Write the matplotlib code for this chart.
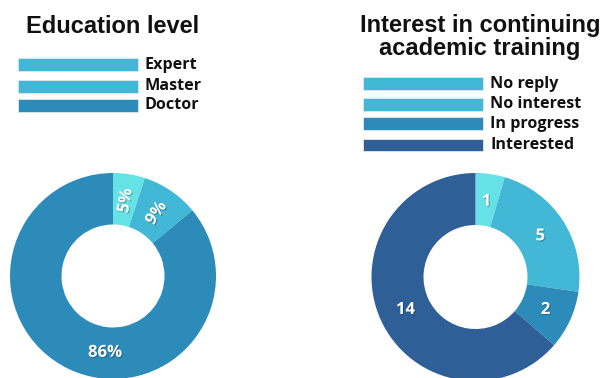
import matplotlib.pyplot as plt
import matplotlib.patches as mpatches
import matplotlib.patheffects as pe
import numpy as np

W, H = 600, 378

edu_labels = ['Expert', 'Master', 'Doctor']
edu_values = [5, 9, 86]

interest_labels = ['No reply', 'No interest', 'In progress', 'Interested']
interest_values = [1, 5, 2, 14]

c_cyan = '#64E2E6'
c_light = '#42B7D6'
c_mid = '#2D8BBA'
c_dark = '#2E5F97'

edu_colors = [c_cyan, c_light, c_mid]
edu_legend_colors = [c_light, c_light, c_mid]
int_colors = [c_cyan, c_light, c_mid, c_dark]
int_legend_colors = [c_light, c_light, c_mid, c_dark]

fig = plt.figure(figsize=(W / 100, H / 100), dpi=100, facecolor='white')


def px_axes(cx, cy, r):
    # axes in pixel coords (y down), unit radius = r pixels
    return fig.add_axes([(cx - r) / W, (H - cy - r) / H, 2 * r / W, 2 * r / H])


shadow = [pe.withSimplePatchShadow(offset=(0.7, -0.7), shadow_rgbFace='#1a1a1a', alpha=0.35)]


def donut(cx, cy, r, values, colors, texts, rotate, angle_override):
    ax = px_axes(cx, cy, r)
    wedges, _ = ax.pie(values, colors=colors, startangle=90, counterclock=False,
                       radius=1.0, wedgeprops=dict(width=0.5, linewidth=0))
    for i, (w, t) in enumerate(zip(wedges, texts)):
        ang = (w.theta1 + w.theta2) / 2
        if angle_override.get(i) is not None:
            ang = angle_override[i]
        rr = 0.74
        x, y = rr * np.cos(np.radians(ang)), rr * np.sin(np.radians(ang))
        rot = ang if rotate[i] else 0
        ax.text(x, y, t, ha='center', va='center', rotation=rot,
                rotation_mode='anchor', fontsize=12, fontweight='bold',
                color='white', family='Open Sans', path_effects=shadow)
    ax.set_xlim(-1, 1)
    ax.set_ylim(-1, 1)
    ax.set_aspect('equal')
    ax.axis('off')
    return ax


donut(113, 276, 103, edu_values, edu_colors,
      [f'{v}%' for v in edu_values], [True, True, False], {2: -96})
donut(475.5, 277, 104, interest_values, int_colors,
      [str(v) for v in interest_values], [False] * 4, {})

# titles and legends drawn in pixel space
ov = fig.add_axes([0, 0, 1, 1])
ov.set_xlim(0, W)
ov.set_ylim(H, 0)
ov.axis('off')
ov.patch.set_alpha(0)

ov.text(113, 26.5, 'Education level', ha='center', va='center', fontsize=17,
        fontweight='bold', family='Liberation Sans', color='#111111')
ov.text(480, 37, 'Interest in continuing\nacademic training', ha='center',
        va='center', fontsize=17, fontweight='bold', family='Liberation Sans',
        color='#111111', linespacing=0.95)


def legend(x0, ys, labels, colors):
    for y, lab, col in zip(ys, labels, colors):
        ov.add_patch(mpatches.Rectangle((x0, y - 6.3), 120, 12.6, facecolor=col,
                                        edgecolor='#dfe8ee', linewidth=0.6))
        ov.text(x0 + 127, y, lab, ha='left', va='center', fontsize=11.6,
                fontweight='bold', family='Open Sans', color='#111111')


legend(18, [64.7, 86.3, 105.3], edu_labels, edu_legend_colors)
legend(363, [83.7, 104.3, 123.7, 145], interest_labels, int_legend_colors)

fig.savefig('out.png', dpi=100, facecolor='white')
